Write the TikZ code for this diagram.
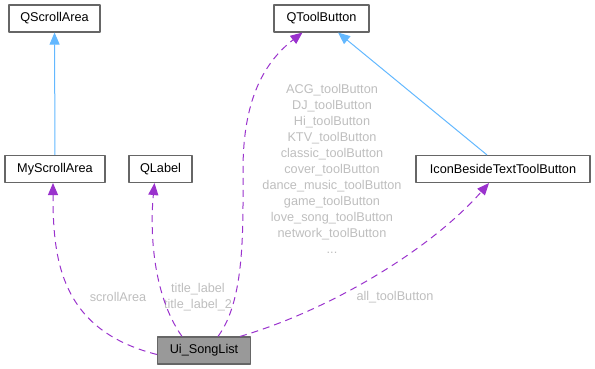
\documentclass[tikz,border=0pt]{standalone}
\usepackage{fontspec}
\setmainfont{Liberation Sans}
\usetikzlibrary{arrows.meta}
\definecolor{usecol}{HTML}{9A32CD}
\definecolor{inhcol}{HTML}{63B8FF}
\definecolor{boxcol}{HTML}{666666}
\definecolor{labcol}{HTML}{BEBEBE}
\definecolor{maincol}{HTML}{999999}
\begin{document}
\begin{tikzpicture}[>={Triangle[length=12bp,width=10bp]},line join=bevel,
  cls/.style={draw=boxcol,line width=1.1bp,fill=white,rectangle,minimum height=27bp,inner sep=0pt,
    font=\fontsize{12.7bp}{16bp}\selectfont},
  lab/.style={text=labcol,align=center,inner sep=0pt,font=\fontsize{12.7bp}{16bp}\selectfont},
  use/.style={->,usecol,line width=1bp,dash pattern=on 7bp off 5bp},
  inh/.style={->,inhcol,line width=1bp}]
\useasboundingbox (0bp,0bp) rectangle (595bp,369bp);
%%
  \node (qsa) at (54.5bp,350.5bp) [cls,minimum width=91bp] {QScrollArea};
  \node (qtb) at (321.5bp,350.5bp) [cls,minimum width=95bp] {QToolButton};
  \node (msa) at (55bp,200bp) [cls,minimum width=100bp] {MyScrollArea};
  \node (ql) at (160.5bp,200bp) [cls,minimum width=63bp] {QLabel};
  \node (ibt) at (503bp,200bp) [cls,minimum width=174bp] {IconBesideTextToolButton};
  \node (song) at (204bp,18.5bp) [cls,fill=maincol,minimum width=93bp] {Ui\_SongList};
  % member labels
  \node (lsa) at (118bp,72bp) [lab] {scrollArea};
  \node (ltl) at (198bp,71.5bp) [lab] {title\_label\\title\_label\_2};
  \node (ltb) at (332bp,200bp) [lab] {ACG\_toolButton\\DJ\_toolButton\\Hi\_toolButton\\KTV\_toolButton\\
    classic\_toolButton\\cover\_toolButton\\dance\_music\_toolButton\\game\_toolButton\\
    love\_song\_toolButton\\network\_toolButton\\...};
  \node (lall) at (395bp,72bp) [lab] {all\_toolButton};
  % inheritance
  \draw [inh] (msa) -- (qsa);
  \draw [inh] ([xshift=-16bp]ibt.north) -- ([xshift=16.5bp]qtb.south);
  % usage
  \draw [use] ([yshift=-4bp]song.west) .. controls (60bp,39bp) and (53bp,110bp) .. ([xshift=-2bp]msa.south);
  \draw [use] ([xshift=-22bp]song.north) .. controls (152bp,75bp) and (150bp,140bp) .. ([xshift=-6bp]ql.south);
  \draw [use] ([xshift=14bp]song.north) .. controls (245bp,69bp) and (243bp,139bp) .. (243bp,199bp)
    .. controls (243bp,259bp) and (258bp,302bp) .. ([xshift=-19bp]qtb.south);
  \draw [use] ([xshift=36bp]song.north) .. controls (330bp,59bp) and (430bp,119bp) .. ([xshift=-14bp]ibt.south);
%
\end{tikzpicture}
\end{document}
